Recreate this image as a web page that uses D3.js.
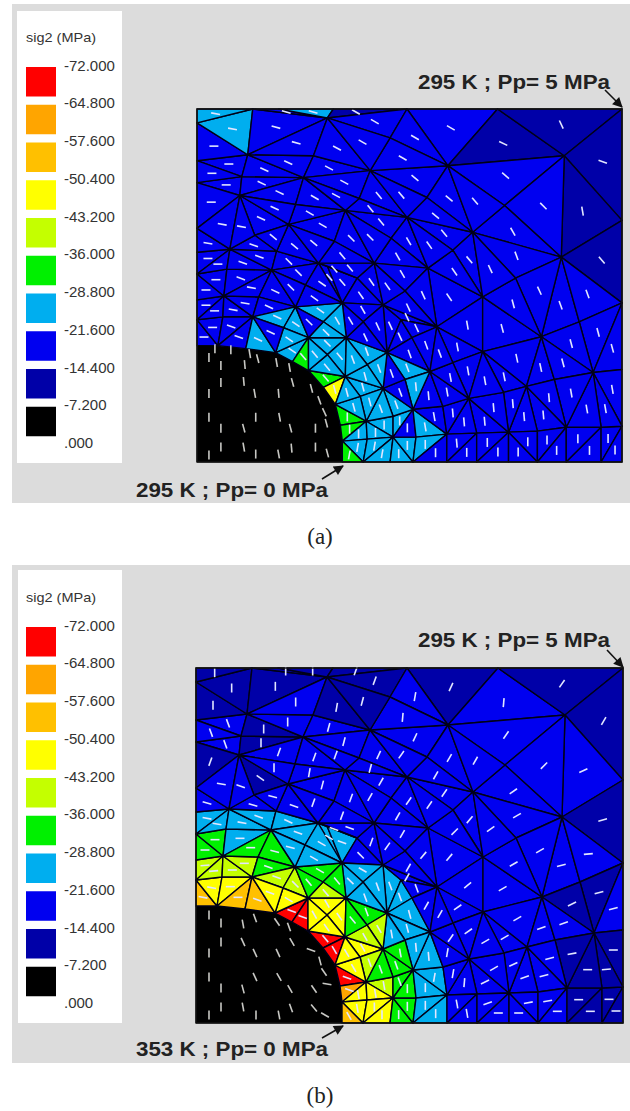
<!DOCTYPE html>
<html>
<head>
<meta charset="utf-8">
<script src="https://cdn.jsdelivr.net/npm/d3@7"></script>
<style>
  html, body { margin: 0; padding: 0; background: #fff; }
  svg { display: block; }
</style>
</head>
<body>
<script>
// legend
const legendTitle = "sig2 (MPa)";
const legendValues = [-72, -64.8, -57.6, -50.4, -43.2, -36, -28.8, -21.6, -14.4, -7.2, 0];
const legendLabels = ["-72.000", "-64.800", "-57.600", "-50.400", "-43.200", "-36.000", "-28.800", "-21.600", "-14.400", "-7.200", ".000"];
const legendColors = ["#ff0000", "#ffa500", "#ffc000", "#ffff00", "#c4ff00", "#00f000", "#00aeef", "#0000f0", "#0000a8", "#000000"];

// hole outline, model units: x 0-427, y 0-355
const holeEdge = [[0,117],[21,117],[49,114],[79,110],[96,101],[112,92],[127,75],[139,58],[144,37],[146,21],[146,0],[0,0]];

// mesh triangles as flat x,y lists
const triangles3 = [
  [0,143,0,117,21,117],[0,143,21,117,26,146],[26,146,21,117,56,146],[21,117,49,114,56,146],[49,114,79,110,56,146],
  [79,110,112,125,96,101],[96,101,112,125,112,92],[112,92,149,86,127,75],[127,75,149,86,139,58],
  [139,58,170,41,144,37],[144,37,170,41,146,21],[146,21,170,41,171,23],[146,21,171,23,167,0],[146,21,167,0,146,0],
  [170,41,197,46,197,25],[170,41,197,25,171,23],[171,23,197,25,167,0],[167,0,197,25,194,0],[194,0,197,25,217,0],[197,25,220,25,217,0],
  [197,46,217,53,197,25],[197,25,217,53,220,25],[187,74,217,53,197,46],[187,74,197,46,170,41],
  [217,53,251,28,220,25],[220,25,251,28,217,0],[217,0,251,28,251,0],[217,53,247,56,251,28],[234,91,247,56,217,53],
  [187,158,205,143,191,110],[205,143,216,125,191,110],[216,125,234,91,191,110],
  [0,163,27,167,0,143],[0,143,27,167,26,146],[26,146,27,167,56,146],[27,167,62,166,56,146],
  [0,189,27,167,0,163],[0,189,30,194,27,167],[27,167,30,194,75,193],[27,167,75,193,62,166],[62,166,75,193,99,156],[62,166,99,156,56,146],
  [0,211,33,214,0,189],[33,214,30,194,0,189],[33,214,75,193,30,194],[33,214,80,212,75,193],[80,212,122,200,75,193],
  [122,200,131,197,146,160],[131,197,161,185,146,160],[146,160,161,185,187,158],[161,185,178,200,187,158],[122,200,178,200,161,185],[122,200,161,185,131,197],
  [0,235,33,214,0,211],[92,239,122,200,80,212],
  [0,281,45,287,43,268],[0,281,43,268,0,235],[0,235,43,268,33,214],[0,303,51,309,45,287],[0,303,45,287,0,281],[45,287,107,286,43,268],[51,309,107,286,45,287],
  [0,341,51,309,0,303],[0,341,56,355,51,309],[0,355,56,355,0,341],[56,355,131,346,51,309],[56,355,82,355,131,346],[82,355,137,355,131,346],[137,355,211,355,131,346],
  [51,309,117,308,107,286],[51,309,131,346,117,308],[117,308,174,293,107,286],[131,346,174,293,117,308],
  [211,355,302,355,252,298],[252,298,302,355,369,308],[302,355,427,355,369,308],[369,308,427,355,427,243],[369,308,427,243,366,206],[366,206,427,243,427,160],
  [366,206,384,141,346,126],[366,206,427,160,384,141],[384,141,427,160,398,90],[384,141,398,90,346,126],[398,90,427,160,427,93],
  [232,195,287,166,241,136],[187,158,241,136,205,143],[205,143,241,136,216,125],[241,136,287,166,287,111],[287,166,346,126,287,111],[216,125,241,136,234,91],
  [287,111,346,126,331,76],[273,64,313,30,281,29],[273,64,281,29,251,28],[273,64,251,28,247,56],[234,91,273,64,247,56],
  [251,28,281,29,251,0],[281,29,281,0,251,0],[281,29,313,30,281,0],[313,30,313,0,281,0],
  [331,76,371,35,342,31],[331,76,342,31,313,30],[313,30,342,31,342,0],[313,30,342,0,313,0],[342,31,371,35,342,0],[371,35,371,0,342,0],
  [371,35,406,35,371,0],[406,35,406,0,371,0],[406,35,427,36,406,0],[427,36,427,0,406,0],
  [398,90,427,93,427,36],[398,90,427,36,406,35],[398,90,406,35,371,35]
];
// quads split at a centre node: centre x,y then four corners
const quads = [
  [87,135,56,146,99,156,112,125,79,110],[131,108,112,125,150,125,149,86,112,92],[164,66,149,86,187,74,170,41,139,58],
  [209,83,191,110,234,91,217,53,187,74],[171,98,150,125,191,110,187,74,149,86],[167,141,146,160,187,158,191,110,150,125],
  [127,141,99,156,146,160,150,125,112,125],[109,178,75,193,122,200,146,160,99,156],[58,228,43,268,92,239,80,212,33,214],
  [138,222,92,239,149,253,178,200,122,200],[195,225,149,253,211,246,232,195,178,200],[257,213,211,246,277,231,287,166,232,195],
  [99,259,43,268,107,286,149,253,92,239],[163,265,107,286,174,293,211,246,149,253],[231,266,174,293,252,298,277,231,211,246],
  [194,326,131,346,211,355,252,298,174,293],[309,258,252,298,369,308,366,206,277,231],[320,185,277,231,366,206,346,126,287,166],
  [209,172,178,200,232,195,241,136,187,158],[257,100,241,136,287,111,273,64,234,91],[359,83,331,76,346,126,398,90,371,35],
  [308,70,287,111,331,76,313,30,273,64]
];

// panel (a): a point inside each element that is not plain blue
const cyanA = [[18,350],[36,335],[117,352],[61,123],[81,145],[99,139],[93,123],[96,112],[123,153],[141,142],[131,131],
  [118,108],[131,119],[143,106],[131,95],[170,111],[156,103],[183,94],[169,86],[167,75],[151,70],[174,60],[158,55],
  [200,58],[185,54],[204,41],[188,37],[179,30],[162,28],[161,15],[178,16],[186,8],[203,8],[211,17],[229,35],[229,18],[211,95],[220,76]];
const greenA = [[107,106],[129,84],[151,45],[153,33],[153,7]];
const yellowA = [[138,73]];
const darkA = [[308,320],[366,339],[408,302],[387,252],[407,203],[160,352]];

// panel (b)
const cyanB = [[11,205],[21,199],[46,200],[63,206],[92,202],[44,184],[102,190],[126,180],[94,176],[118,165],[146,181],[133,186],
  [167,153],[154,142],[169,125],[182,136],[194,137],[204,126],[214,109],[211,95],[196,89],[220,76],[233,67],[238,46],[229,35],[229,18],[240,9]];
const greenB = [[19,183],[9,173],[55,175],[79,172],[72,156],[124,152],[113,141],[141,142],[170,111],[156,103],[204,70],[200,58],[185,54],[204,41],[211,34],[211,17],[203,8]];
const limeB = [[9,158],[18,152],[36,153],[48,160],[81,146],[99,139],[130,131],[169,86],[183,94],[188,37],[174,60]];
const yellowB = [[16,135],[34,136],[74,130],[93,123],[131,119],[118,108],[143,106],[131,95],[167,75],[151,70],[158,55],[179,30],[162,28],[161,15],[178,16],[186,8]];
const amberB = [[7,126],[42,126],[61,123],[153,7]];
const orangeB = [[153,33]];
const redB = [[96,112],[107,106],[129,84],[138,73],[151,45]];
const darkB = [[18,350],[36,335],[79,337],[90,352],[117,352],[160,352],[17,318],[68,294],[65,280],[14,261],[64,245],[141,316],[167,322],[179,342],
  [255,336],[366,339],[408,302],[407,203],[376,119],[403,130],[376,69],[410,54],[417,73],[392,53],[383,23],[394,12],[413,24],[420,12]];

// stress direction readings [x, y, degrees]
const dirA = [[16,347,10],[78,335,15],[165,322,30],[20,310,0],[68,294,25],[133,295,28],[13,268,0],[78,257,25],[113,252,30],[183,242,50],
  [25,227,10],[98,217,40],[156,227,45],[201,208,60],[15,190,0],[46,199,20],[103,190,45],[153,195,50],[175,182,55],[253,334,30],[306,319,25],
  [364,338,65],[405,300,20],[308,287,40],[346,257,45],[385,251,80],[316,231,60],[318,205,70],[404,200,50],[389,169,70],[341,172,65],[292,192,65],
  [271,212,50],[253,192,55],[251,265,40],[277,260,50],[6,157,0],[48,159,10],[73,155,25],[118,165,35],[155,142,60],[182,137,65],[215,139,65],
  [197,130,65],[230,117,70],[180,97,70],[210,95,70],[220,75,85],[250,72,80],[203,70,70],[237,47,80],[211,19,90],[230,19,90],[240,8,90],[165,32,90],
  [178,15,100],[160,75,75],[73,130,25],[41,124,20],[60,122,25],[94,122,35],[125,105,50],[130,130,45],[300,150,75],[270,110,80],[330,110,78],
  [400,120,75],[270,40,85],[340,50,85],[400,60,80],[290,10,90],[350,10,90],[410,10,90]];
const dirB = [[20,350,90],[80,338,90],[99,324,90],[141,318,-80],[166,325,-75],[177,345,-70],[207,306,-85],[92,303,90],[134,298,-75],[66,283,90],
  [84,276,-70],[121,270,-70],[141,270,-70],[148,284,-75],[184,270,-65],[206,270,-55],[79,260,90],[114,255,-80],[175,257,-75],[128,241,-75],[187,243,-60],
  [157,228,-70],[176,228,-60],[119,225,-70],[16,270,70],[16,255,-70],[27,250,-60],[57,251,35],[24,230,10],[54,232,20],[69,223,15],[99,220,20],[11,220,15],
  [256,336,-65],[308,320,-85],[366,340,-55],[407,302,-60],[219,328,-80],[311,288,-55],[221,287,-65],[254,265,-60],[281,263,-60],[347,257,-45],[386,251,-25],
  [241,250,-60],[316,231,-35],[249,230,-55],[234,220,-55],[214,223,-55],[274,204,-50],[319,206,-30],[404,200,-15],[259,192,-45],[293,191,-35],[209,192,-60],
  [214,158,-60],[244,160,-45],[261,170,-50],[229,169,-50],[317,158,-30],[342,170,-30],[365,158,-15],[391,167,-5],[279,142,-40],[298,132,-30],[317,138,-30],
  [263,132,-40],[234,118,-60],[247,110,-60],[263,116,-35],[375,119,-25],[401,130,-15],[416,112,-15],[332,107,-30],[312,101,-30],[273,91,-35],[258,86,-55],
  [289,81,-30],[308,86,-30],[345,95,-20],[367,99,-20],[251,73,-80],[297,56,-30],[317,59,-25],[354,64,-15],[376,69,-10],[416,72,0],[258,52,-80],[289,41,-25],
  [328,46,-20],[348,47,-15],[391,52,0],[409,53,-5],[270,41,-85],[272,20,-70],[291,20,-20],[331,20,-10],[351,22,-10],[394,23,0],[412,24,0],[261,11,80],
  [302,10,0],[322,10,0],[362,11,0],[382,11,0],[419,13,0],[12,203,10],[64,207,20],[47,200,10],[94,203,25],[102,191,20],[144,181,20],[126,181,30],[44,185,0],
  [9,171,0],[51,171,0],[79,171,15],[86,161,30],[126,151,30],[139,141,50],[7,155,-5],[34,151,0],[74,146,20],[92,143,45],[104,131,50],[127,131,50],[156,143,45],
  [171,150,30],[166,166,45],[177,181,-70],[194,180,-55],[179,123,70],[201,130,70],[212,93,75],[196,90,80],[236,83,85],[236,70,85],[236,45,100],[229,36,90],
  [237,13,90],[206,10,90],[169,13,90],[154,16,60],[14,135,10],[37,136,0],[66,130,20],[87,123,30],[97,110,20],[104,108,20],[129,80,50],[139,71,60],[126,119,60],
  [134,105,55],[159,95,50],[179,93,60],[166,76,60],[161,53,60],[183,53,70],[184,26,80],[161,16,80],[181,10,90],[154,38,20]];

// ticks shown inside the hole
const holeTicksA = [[18,114,90],[34,113,90],[12,105,90],[53,109,80],[61,104,75],[24,97,90],[48,98,85],[80,100,80],[93,95,80],[24,80,90],[47,81,85],[96,80,75],
  [12,69,90],[58,69,80],[82,69,85],[115,74,75],[123,62,70],[12,45,90],[59,45,90],[83,45,80],[128,50,65],[24,34,90],[47,34,75],[94,34,75],[119,34,90],[130,39,75],
  [24,15,90],[47,15,80],[95,14,85],[119,15,90],[131,9,75],[12,7,90],[59,8,90],[82,8,80]];
const holeTicksB = [[13,108,90],[25,100,90],[47,99,80],[59,105,70],[81,101,55],[93,96,70],[96,81,60],[25,81,90],[47,81,65],[59,70,65],[82,70,65],[13,70,90],
  [115,73,20],[124,62,75],[128,51,55],[13,46,90],[59,46,65],[83,46,60],[131,39,10],[25,35,90],[47,34,75],[94,34,60],[118,34,55],[25,16,90],[47,16,80],[95,15,70],
  [118,15,50],[129,8,30],[13,8,90],[60,8,90],[83,8,80]];

const w = 630;
const h = 1111;

const svg = d3.select("body").append("svg").attr("width", w).attr("height", h);

// a little softening, the source is a scanned screenshot
svg.append("defs").append("filter").attr("id", "soft")
  .append("feGaussianBlur").attr("stdDeviation", 0.55);
const marker = svg.select("defs").append("marker").attr("id", "head")
  .attr("viewBox", "0 0 10 10").attr("refX", 9).attr("refY", 5)
  .attr("markerWidth", 13).attr("markerHeight", 10).attr("orient", "auto")
  .attr("markerUnits", "userSpaceOnUse");
marker.append("path").attr("d", "M0,0L10,5L0,10Z").attr("fill", "#111");

const pts = (f) => d3.range(0, f.length, 2).map((i) => [f[i], f[i + 1]]);
const elements = triangles3.map(pts);
quads.forEach((q) => {
  const [c, ...ring] = pts(q);
  ring.forEach((r, i) => elements.push([c, r, ring[(i + 1) % ring.length]]));
});

const panels = [
  {
    bg: [12, 4, 618, 499], box: [17, 11, 105, 452], legendDy: 0,
    plate: [197, 622, 462, 109],
    picks: [[cyanA, 6], [greenA, 5], [yellowA, 3], [darkA, 8]],
    dir: dirA, holeTicks: holeTicksA,
    topText: "295 K ; Pp= 5 MPa", topY: 89, topArrow: [605, 90, 622, 107],
    botText: "295 K ; Pp= 0 MPa", botY: 497, botArrow: [322, 479, 343, 466],
    caption: "(a)", captionY: 544
  },
  {
    bg: [12, 565, 618, 498], box: [18, 570, 104, 453], legendDy: 560,
    plate: [196, 623, 1023, 668],
    picks: [[cyanB, 6], [greenB, 5], [limeB, 4], [yellowB, 3], [amberB, 2], [orangeB, 1], [redB, 0], [darkB, 8]],
    dir: dirB, holeTicks: holeTicksB,
    topText: "295 K ; Pp= 5 MPa", topY: 647, topArrow: [607, 650, 623, 667],
    botText: "353 K ; Pp= 0 MPa", botY: 1056, botArrow: [322, 1038, 343, 1026],
    caption: "(b)", captionY: 1103
  }
];

const yLegend = d3.scaleLinear().domain([-72, 0]).range([65.5, 443]);

panels.forEach((p) => {
  const g = svg.append("g");

  g.append("rect").attr("x", p.bg[0]).attr("y", p.bg[1]).attr("width", p.bg[2]).attr("height", p.bg[3]).attr("fill", "#dcdcdc");
  g.append("rect").attr("x", p.box[0]).attr("y", p.box[1]).attr("width", p.box[2]).attr("height", p.box[3]).attr("fill", "#fff");

  // Legend
  const lg = g.append("g").attr("transform", `translate(0, ${p.legendDy})`);
  lg.append("text").attr("x", 26).attr("y", 42)
    .attr("font-family", "Liberation Sans").attr("font-size", 13.5).attr("fill", "#333")
    .attr("textLength", 70).attr("lengthAdjust", "spacingAndGlyphs").text(legendTitle);
  lg.selectAll(".swatch").data(legendColors).enter().append("rect")
    .attr("class", "swatch").attr("x", 26).attr("width", 30)
    .attr("y", (d, i) => yLegend(legendValues[i]) + 1.5)
    .attr("height", 29.5).attr("fill", (d) => d);
  lg.selectAll(".lab").data(legendLabels).enter().append("text")
    .attr("class", "lab").attr("x", 64)
    .attr("y", (d, i) => yLegend(legendValues[i]) + 5)
    .attr("font-family", "Liberation Sans").attr("font-size", 15).attr("fill", "#333")
    .text((d) => d);

  // Scales
  const x = d3.scaleLinear().domain([0, 427]).range([p.plate[0], p.plate[1]]);
  const y = d3.scaleLinear().domain([0, 355]).range([p.plate[2], p.plate[3]]);

  const level = (tri) => {
    for (const [list, bin] of p.picks) {
      if (list.some((pt) => d3.polygonContains(tri, pt))) return bin;
    }
    return 7;
  };
  const line = d3.line().x((d) => x(d[0])).y((d) => y(d[1]));

  const mesh = g.append("g").attr("filter", "url(#soft)");
  mesh.append("path").attr("d", line(holeEdge) + "Z").attr("fill", "#000").attr("stroke", "#000");
  mesh.selectAll(".el").data(elements).enter().append("path")
    .attr("class", "el")
    .attr("d", (d) => line(d) + "Z")
    .attr("fill", (d) => legendColors[level(d)])
    .attr("stroke", "#000018")
    .attr("stroke-width", 1.4)
    .attr("stroke-linejoin", "round");

  // one tick per element, direction from the nearest reading
  const ticks = elements.map((t) => {
    const c = d3.polygonCentroid(t);
    const near = d3.least(p.dir, (r) => (r[0] - c[0]) ** 2 + (r[1] - c[1]) ** 2);
    return [c[0], c[1], near[2]];
  });
  const tick = (sel, data, color) => sel.selectAll(".t").data(data).enter().append("line")
    .attr("x1", -4.5).attr("x2", 4.5).attr("y1", 0).attr("y2", 0)
    .attr("transform", (d) => `translate(${x(d[0])},${y(d[1])}) rotate(${d[2]})`)
    .attr("stroke", color).attr("stroke-width", 1.6);
  tick(mesh.append("g"), ticks, "#e2e6ff");
  tick(mesh.append("g"), p.holeTicks, "#c8c8c4");

  mesh.append("rect").attr("x", x(0)).attr("y", y(355))
    .attr("width", x(427) - x(0)).attr("height", y(0) - y(355))
    .attr("fill", "none").attr("stroke", "#111").attr("stroke-width", 1.4);

  // Annotations
  [[p.topText, 418, p.topY, p.topArrow], [p.botText, 136, p.botY, p.botArrow]].forEach(([txt, tx, ty, a]) => {
    g.append("text").attr("x", tx).attr("y", ty)
      .attr("font-family", "Liberation Sans").attr("font-weight", "bold").attr("font-size", 20)
      .attr("fill", "#222").attr("textLength", 192).attr("lengthAdjust", "spacingAndGlyphs").text(txt);
    g.append("line").attr("x1", a[0]).attr("y1", a[1]).attr("x2", a[2]).attr("y2", a[3])
      .attr("stroke", "#111").attr("stroke-width", 1.6).attr("marker-end", "url(#head)");
  });

  svg.append("text").attr("x", 320).attr("y", p.captionY).attr("text-anchor", "middle")
    .attr("font-family", "Liberation Serif").attr("font-size", 23).attr("fill", "#222").text(p.caption);
});
</script>
</body>
</html>
